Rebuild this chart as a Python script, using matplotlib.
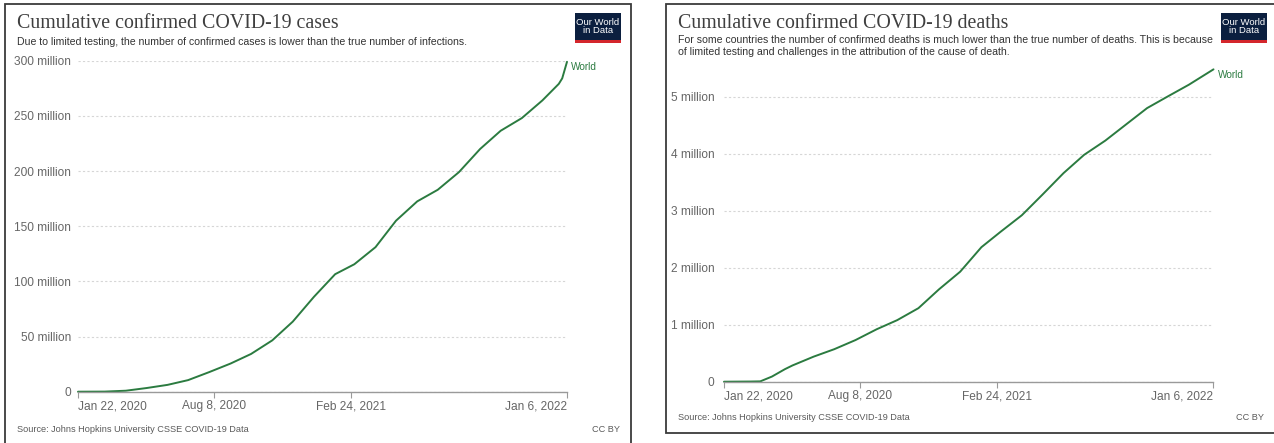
import matplotlib
matplotlib.use("Agg")
import matplotlib.pyplot as plt
from matplotlib.patches import Rectangle
import pandas as pd

# ---------------- data (millions) ----------------
case_dates = ["2020-01-22", "2020-03-01", "2020-04-01", "2020-05-01", "2020-06-01",
              "2020-07-01", "2020-08-01", "2020-09-01", "2020-10-01", "2020-11-01",
              "2020-12-01", "2021-01-01", "2021-02-01", "2021-03-01", "2021-04-01",
              "2021-05-01", "2021-06-01", "2021-07-01", "2021-08-01", "2021-09-01",
              "2021-10-01", "2021-11-01", "2021-12-01", "2021-12-25", "2021-12-30",
              "2022-01-06"]
case_values = [0.0006, 0.09, 0.9, 3.3, 6.2,
               10.5, 17.8, 25.5, 34.2, 46.5,
               63.5, 86.0, 106.5, 115.5, 131.0,
               155.0, 172.5, 183.0, 199.0, 220.0,
               236.5, 248.0, 264.0, 279.0, 284.0,
               299.0]

death_dates = ["2020-01-22", "2020-03-01", "2020-03-15", "2020-04-01", "2020-04-20",
               "2020-05-01", "2020-06-01", "2020-07-01", "2020-08-01", "2020-09-01",
               "2020-10-01", "2020-11-01", "2020-12-01", "2021-01-01", "2021-02-01",
               "2021-03-01", "2021-04-01", "2021-05-01", "2021-06-01", "2021-07-01",
               "2021-08-01", "2021-09-01", "2021-10-01", "2021-11-01", "2021-12-01",
               "2022-01-06"]
death_values = [0.00002, 0.003, 0.006, 0.09, 0.22,
                0.285, 0.44, 0.57, 0.73, 0.92,
                1.08, 1.29, 1.62, 1.93, 2.36,
                2.63, 2.92, 3.28, 3.66, 3.98,
                4.23, 4.52, 4.80, 5.01, 5.21,
                5.48]

x_tick_dates = ["2020-01-22", "2020-08-08", "2021-02-24", "2022-01-06"]
x_tick_labels = ["Jan 22, 2020", "Aug 8, 2020", "Feb 24, 2021", "Jan 6, 2022"]

case_yticks = [0, 50, 100, 150, 200, 250, 300]
case_ytick_labels = ["0", "50 million", "100 million", "150 million",
                     "200 million", "250 million", "300 million"]
death_yticks = [0, 1, 2, 3, 4, 5]
death_ytick_labels = ["0", "1 million", "2 million", "3 million", "4 million", "5 million"]

series_name = "World"
titles = ["Cumulative confirmed COVID-19 cases", "Cumulative confirmed COVID-19 deaths"]
subtitles = ["Due to limited testing, the number of confirmed cases is lower than the true number of infections.",
             "For some countries the number of confirmed deaths is much lower than the true number of deaths. This is because\n"
             "of limited testing and challenges in the attribution of the cause of death."]
source = "Source: Johns Hopkins University CSSE COVID-19 Data"
license_txt = "CC BY"

# ---------------- style ----------------
W, H = 1274, 443
GREEN = "#2b7b40"
GRID = "#d6d6d6"
TICK = "#666666"
SANS = "Liberation Sans"
SERIF = "Liberation Serif"

fig = plt.figure(figsize=(W / 100, H / 100), dpi=100)
fig.patch.set_facecolor("white")


def fx(px):
    return px / W


def fy(py):
    return 1 - py / H


renderer = fig.canvas.get_renderer()


def fit_size(s, width_px, family, weight="normal", base=10):
    t = fig.text(0, 0, s, fontsize=base, family=family, weight=weight)
    w = t.get_window_extent(renderer=renderer).width
    t.remove()
    return base * width_px / w


tick_fs = fit_size("Jan 22, 2020", 69, SANS)
title_fs = fit_size(titles[0], 320, SERIF)
sub_fs = fit_size(subtitles[0], 453, SANS)
src_fs = fit_size(source, 232, SANS)
world_fs = fit_size(series_name, 26, SANS)

# panel frames (drawn beneath the axes)
fig.patches.append(Rectangle((fx(5), fy(460)), fx(631 - 5), (460 - 4) / H,
                             transform=fig.transFigure, facecolor="white",
                             edgecolor="#3a3a3a", lw=1.3, zorder=-5))
fig.patches.append(Rectangle((fx(666), fy(433)), fx(1290 - 666), (433 - 4) / H,
                             transform=fig.transFigure, facecolor="white",
                             edgecolor="#3a3a3a", lw=1.3, zorder=-5))


def logo(x0, y_top):
    w, h = 46, 27
    fig.patches.append(Rectangle((fx(x0), fy(y_top + h)), fx(w), h / H,
                                 transform=fig.transFigure, facecolor="#0b1f3f",
                                 edgecolor="none", zorder=2))
    fig.patches.append(Rectangle((fx(x0), fy(y_top + h + 2.5)), fx(w), 2.5 / H,
                                 transform=fig.transFigure, facecolor="#d4262c",
                                 edgecolor="none", zorder=2))
    fig.text(fx(x0 + w / 2), fy(y_top + h / 2), "Our World\nin Data", color="white",
             fontsize=tick_fs * 0.8, family=SANS, ha="center", va="center",
             linespacing=0.95, zorder=3)


def panel(ax_box, dates, values, yticks, ylabels, ymax, pad, title, subtitle,
          title_x, title_y, sub_y, src_y, cc_x, logo_x):
    x0, y_bot, x1, y_top = ax_box
    ax = fig.add_axes([fx(x0), fy(y_bot), fx(x1 - x0), (y_bot - y_top) / H])
    d = pd.to_datetime(dates)
    ax.plot(d, values, color=GREEN, lw=1.4, clip_on=False, solid_capstyle="round",
            solid_joinstyle="round")
    ax.set_xlim(pd.Timestamp(x_tick_dates[0]), pd.Timestamp(x_tick_dates[-1]))
    ax.set_ylim(0, ymax)
    ax.set_yticks(yticks)
    ax.set_yticklabels(ylabels)
    ax.set_xticks(pd.to_datetime(x_tick_dates))
    ax.set_xticklabels(x_tick_labels)
    labs = ax.get_xticklabels()
    labs[0].set_ha("left")
    labs[-1].set_ha("right")
    for s in ["top", "right", "left"]:
        ax.spines[s].set_visible(False)
    ax.spines["bottom"].set_color("#9a9a9a")
    ax.spines["bottom"].set_linewidth(1.0)
    ax.tick_params(axis="y", length=0, pad=pad, labelsize=tick_fs, labelcolor=TICK)
    ax.tick_params(axis="x", length=4, width=0.8, color="#9a9a9a", pad=2,
                   labelsize=tick_fs, labelcolor=TICK)
    for lab in ax.get_xticklabels() + ax.get_yticklabels():
        lab.set_family(SANS)
    ax.grid(axis="y", color=GRID, linestyle=(0, (2, 2)), lw=0.8)
    ax.set_axisbelow(True)
    ax.patch.set_alpha(0)
    ax.annotate(series_name, xy=(d[-1], values[-1]), xytext=(3, -4),
                textcoords="offset points", color=GREEN, fontsize=world_fs,
                family=SANS, ha="left", va="center", annotation_clip=False)
    fig.text(fx(title_x), fy(title_y), title, fontsize=title_fs, family=SERIF,
             color="#3f3f3f", ha="left", va="center")
    fig.text(fx(title_x), fy(sub_y), subtitle, fontsize=sub_fs, family=SANS,
             color="#333333", ha="left", va="top", linespacing=1.25)
    fig.text(fx(title_x), fy(src_y), source, fontsize=src_fs, family=SANS,
             color="#5a5a5a", ha="left", va="center")
    fig.text(fx(cc_x), fy(src_y), license_txt, fontsize=src_fs, family=SANS,
             color="#5a5a5a", ha="right", va="center")
    logo(logo_x, 13)
    return ax


panel((78, 391.7, 567, 60.7), case_dates, case_values, case_yticks, case_ytick_labels,
      300, 5, titles[0], subtitles[0], 17, 23, 37, 430, 620, 575)
panel((724, 381.7, 1213.5, 67.7), death_dates, death_values, death_yticks,
      death_ytick_labels, 314 / 57.0, 7, titles[1], subtitles[1], 678, 23, 35, 418,
      1264, 1221)

fig.savefig("out.png", dpi=100, facecolor="white")
